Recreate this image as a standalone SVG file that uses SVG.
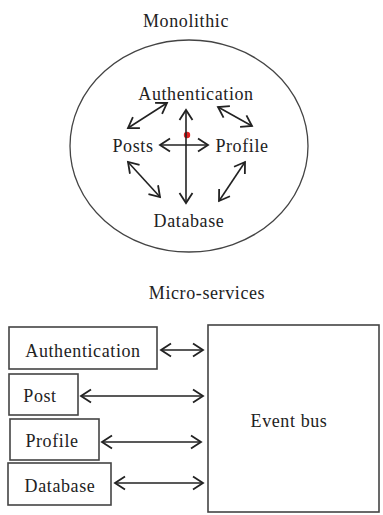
<svg xmlns="http://www.w3.org/2000/svg" width="383" height="515" viewBox="0 0 383 515">
<style>
  text { font-family: "Liberation Serif", "DejaVu Serif", serif; font-size: 18px; fill: #222; text-anchor: middle; letter-spacing: 0.6px; }
  .box { fill: #fff; stroke: #444; stroke-width: 1.6; }
  .conn { stroke: #222; stroke-width: 1.6; fill: none; marker-start: url(#ah); marker-end: url(#ah); }
</style>
<defs>
  <marker id="ah" markerUnits="userSpaceOnUse" viewBox="-12 -8 14 16" markerWidth="14" markerHeight="16" refX="0" refY="0" orient="auto-start-reverse" overflow="visible">
    <path d="M-10,-6.5 L0,0 L-10,6.5" fill="none" stroke="#222" stroke-width="1.8" stroke-linejoin="miter"/>
  </marker>
</defs>
<rect width="383" height="515" fill="#fff"/>

<g id="monolithic">
  <text x="186" y="27">Monolithic</text>
  <ellipse cx="189" cy="146" rx="119" ry="106" fill="none" stroke="#444" stroke-width="1.3"/>
</g>
<g id="mono-authentication"><text x="196" y="100">Authentication</text></g>
<g id="mono-posts"><text x="133" y="152">Posts</text></g>
<g id="mono-profile"><text x="242" y="152">Profile</text></g>
<g id="mono-database"><text x="189" y="227">Database</text></g>
<g id="red-dot"><circle cx="187" cy="135" r="3.2" fill="#e02020"/></g>

<g id="mono-connectors">
  <line class="conn" x1="186" y1="110" x2="186" y2="203"/>
  <line class="conn" x1="160" y1="145" x2="208" y2="145"/>
  <line class="conn" x1="128" y1="128" x2="167" y2="103"/>
  <line class="conn" x1="218" y1="107" x2="252" y2="126"/>
  <line class="conn" x1="128" y1="162" x2="160" y2="197"/>
  <line class="conn" x1="245" y1="162" x2="219" y2="201"/>
</g>

<g id="micro-title"><text x="207" y="299">Micro-services</text></g>

<g id="ms-authentication">
  <rect class="box" x="9" y="327" width="148" height="42"/>
  <text x="83" y="357">Authentication</text>
</g>
<g id="ms-post">
  <rect class="box" x="9" y="374" width="69" height="41"/>
  <text x="40" y="402">Post</text>
</g>
<g id="ms-profile">
  <rect class="box" x="10" y="419" width="89" height="41"/>
  <text x="52" y="447">Profile</text>
</g>
<g id="ms-database">
  <rect class="box" x="8" y="463" width="103" height="42"/>
  <text x="60" y="492">Database</text>
</g>
<g id="event-bus">
  <rect class="box" x="208" y="325" width="171" height="187"/>
  <text x="289" y="427">Event bus</text>
</g>

<g id="ms-connectors">
  <line class="conn" x1="161" y1="350" x2="203" y2="350"/>
  <line class="conn" x1="81" y1="396" x2="203" y2="396"/>
  <line class="conn" x1="102" y1="442" x2="201" y2="442"/>
  <line class="conn" x1="115" y1="483" x2="203" y2="483"/>
</g>
</svg>
